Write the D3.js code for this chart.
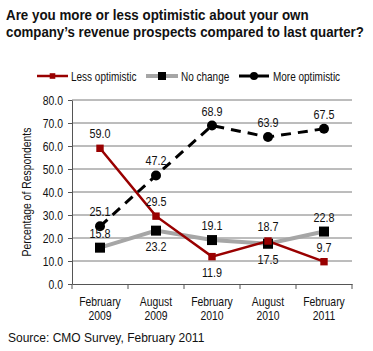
<!DOCTYPE html>
<html>
<head>
<meta charset="utf-8">
<script src="https://cdn.jsdelivr.net/npm/d3@7"></script>
<style>
  body { margin: 0; background: #fff; }
  svg text { font-family: "Liberation Sans", Arial, sans-serif; fill: #111; }
</style>
</head>
<body>
<div id="chart"></div>
<script>
// survey waves
let periods = ["February 2009", "August 2009", "February 2010", "August 2010", "February 2011"];

// percentage of respondents
let lessOptimistic = [59.0, 29.5, 11.9, 18.7, 9.7];
let noChange = [15.8, 23.2, 19.1, 17.5, 22.8];
let moreOptimistic = [25.1, 47.2, 68.9, 63.9, 67.5];

// where each value label sits
let lessLabelSide = ["above", "above", "below", "above", "above"];
let noChangeLabelSide = ["above", "below", "above", "below", "above"];
let moreLabelSide = ["above", "above", "above", "above", "above"];

let yTicks = [0, 10, 20, 30, 40, 50, 60, 70, 80];

let width = 373, height = 351;
let margin = { top: 100, right: 21, bottom: 67, left: 72 };
let narrow = 0.8; // squeeze to look like a narrow face

let svg = d3.select("#chart").append("svg")
    .attr("width", width)
    .attr("height", height);

// draws a horizontally condensed text
function narrowText(sel, px, py, str, size, anchor) {
    return sel.append("text")
        .attr("transform", "translate(" + px + "," + py + ") scale(" + narrow + ",1)")
        .attr("text-anchor", anchor || "start")
        .style("font-size", size + "px")
        .text(str);
}

// Title, squeezed to a target width
function titleLine(str, py, targetW) {
    let t = svg.append("text")
        .style("font-weight", "bold")
        .style("font-size", "15px")
        .text(str);
    let s = targetW / t.node().getComputedTextLength();
    t.attr("transform", "translate(6," + py + ") scale(" + s + ",1)");
}
titleLine("Are you more or less optimistic about your own", 20, 303);
titleLine("company\u2019s revenue prospects compared to last quarter?", 37, 358);

let plotW = width - margin.left - margin.right;
let plotH = height - margin.top - margin.bottom;

let g = svg.append("g")
    .attr("transform", "translate(" + margin.left + "," + margin.top + ")");

let x = d3.scaleBand().domain(periods).range([0, plotW]);
let y = d3.scaleLinear().domain([0, 80]).range([plotH, 0]);

// gridlines
g.selectAll(".grid").data(yTicks.filter(d => d > 0)).enter().append("line")
    .attr("x1", 0).attr("x2", plotW)
    .attr("y1", d => y(d)).attr("y2", d => y(d))
    .attr("stroke", "#7a7a7a").attr("stroke-width", 1);

// y axis
let yAxis = d3.axisLeft(y).tickValues(yTicks).tickFormat("").tickSizeInner(4).tickSizeOuter(0);
let yg = g.append("g").call(yAxis);
yg.select(".domain").attr("stroke", "#555");
yg.selectAll(".tick line").attr("stroke", "#555");
yTicks.forEach(t => narrowText(g, -9, y(t) + 4.5, d3.format(".1f")(t), 13, "end"));

// x axis
let xAxis = d3.axisBottom(x).tickSize(0).tickFormat("");
let xg = g.append("g").attr("transform", "translate(0," + plotH + ")").call(xAxis);
xg.select(".domain").attr("stroke", "#555");
let boundaries = periods.map(p => x(p)).concat([plotW]);
xg.selectAll(".bound").data(boundaries).enter().append("line")
    .attr("x1", d => d).attr("x2", d => d)
    .attr("y1", 0).attr("y2", 5)
    .attr("stroke", "#555");

periods.forEach(p => {
    let mx = x(p) + x.bandwidth() / 2;
    narrowText(xg, mx, 22, p.split(" ")[0], 13, "middle");
    narrowText(xg, mx, 36, p.split(" ")[1], 13, "middle");
});

// y title
svg.append("text")
    .attr("transform", "translate(31," + (margin.top + plotH / 2) + ") rotate(-90) scale(" + narrow + ",1)")
    .attr("text-anchor", "middle")
    .style("font-size", "13px")
    .text("Percentage of Respondents");

let cx = (d, i) => x(periods[i]) + x.bandwidth() / 2;
let line = d3.line().x(cx).y(d => y(d));

// lines
g.append("path").datum(noChange)
    .attr("d", line).attr("fill", "none")
    .attr("stroke", "#a6a6a6").attr("stroke-width", 4);
g.append("path").datum(lessOptimistic)
    .attr("d", line).attr("fill", "none")
    .attr("stroke", "#990000").attr("stroke-width", 2.5);
g.append("path").datum(moreOptimistic)
    .attr("d", line).attr("fill", "none")
    .attr("stroke", "#000").attr("stroke-width", 3)
    .attr("stroke-dasharray", "10,7");

// markers
g.selectAll(".sq").data(noChange).enter().append("rect")
    .attr("x", (d, i) => cx(d, i) - 5).attr("y", d => y(d) - 5)
    .attr("width", 10).attr("height", 10).attr("fill", "#000");
g.selectAll(".dia").data(lessOptimistic).enter().append("path")
    .attr("d", d3.symbol().type(d3.symbolDiamond2).size(70))
    .attr("transform", (d, i) => "translate(" + cx(d, i) + "," + y(d) + ") rotate(45)")
    .attr("fill", "#990000");
g.selectAll(".dot").data(moreOptimistic).enter().append("circle")
    .attr("cx", cx).attr("cy", d => y(d)).attr("r", 5)
    .attr("fill", "#000");

// value labels
function addLabels(values, sides) {
    values.forEach((d, i) => {
        let ly = sides[i] === "above" ? y(d) - 10 : y(d) + 20;
        narrowText(g, cx(d, i), ly, d.toFixed(1), 13.5, "middle");
    });
}
addLabels(lessOptimistic, lessLabelSide);
addLabels(noChange, noChangeLabelSide);
addLabels(moreOptimistic, moreLabelSide);

// legend
let legendY = 76;
let legend = svg.append("g");
legend.append("line").attr("x1", 37).attr("x2", 68).attr("y1", legendY).attr("y2", legendY)
    .attr("stroke", "#990000").attr("stroke-width", 2.5);
legend.append("path").attr("d", d3.symbol().type(d3.symbolDiamond2).size(40))
    .attr("transform", "translate(52.5," + legendY + ") rotate(45)").attr("fill", "#990000");
narrowText(legend, 71, legendY + 4.5, "Less optimistic", 12.5);

legend.append("line").attr("x1", 146).attr("x2", 178).attr("y1", legendY).attr("y2", legendY)
    .attr("stroke", "#a6a6a6").attr("stroke-width", 4);
legend.append("rect").attr("x", 158).attr("y", legendY - 4).attr("width", 8).attr("height", 8).attr("fill", "#000");
narrowText(legend, 181, legendY + 4.5, "No change", 12.5);

legend.append("line").attr("x1", 239).attr("x2", 269).attr("y1", legendY).attr("y2", legendY)
    .attr("stroke", "#000").attr("stroke-width", 3);
legend.append("circle").attr("cx", 254).attr("cy", legendY).attr("r", 4).attr("fill", "#000");
narrowText(legend, 273, legendY + 4.5, "More optimistic", 12.5);

// source
svg.append("text")
    .attr("x", 8).attr("y", 342)
    .style("font-size", "12px")
    .text("Source: CMO Survey, February 2011");
</script>
</body>
</html>
